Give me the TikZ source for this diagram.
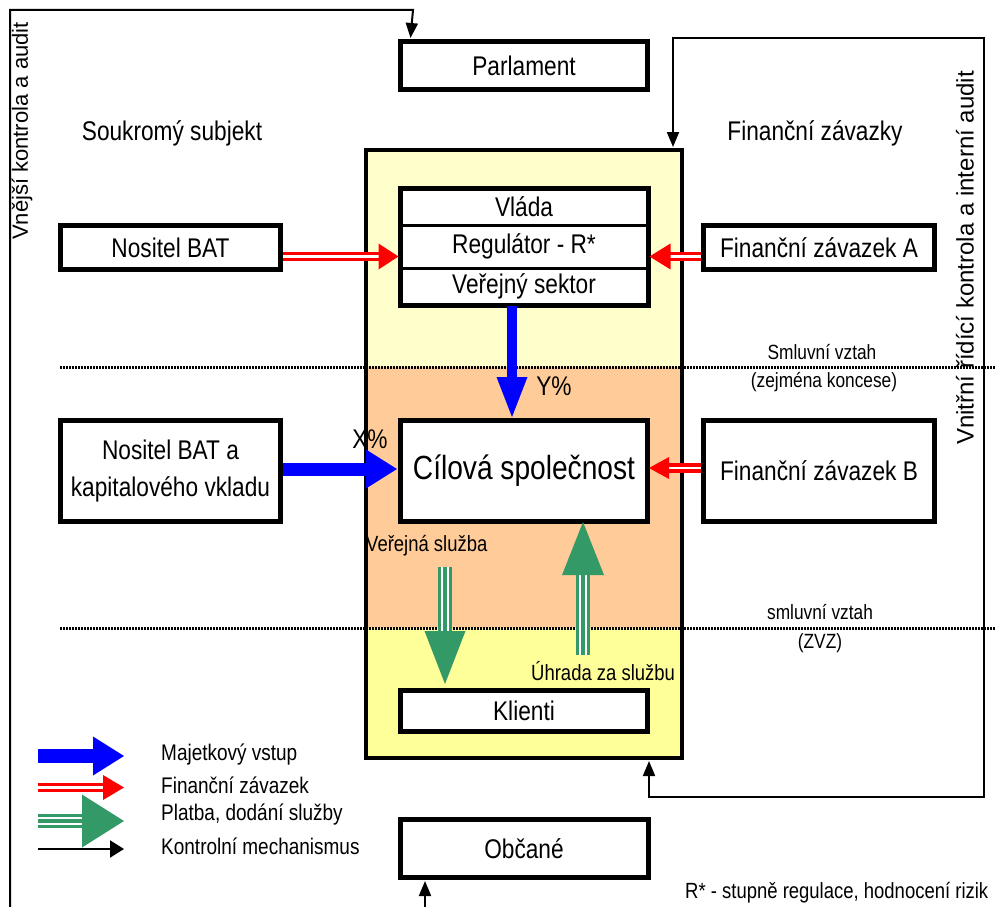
\documentclass[tikz,border=0pt]{standalone}
\usepackage{fontspec}
\setmainfont{Liberation Sans}[FakeStretch=0.84]
\newfontfamily\sidefont{Liberation Sans}
\usetikzlibrary{arrows.meta,calc}

\definecolor{ylight}{RGB}{255,255,204}
\definecolor{peach}{RGB}{255,204,153}
\definecolor{ydeep}{RGB}{255,255,153}
\definecolor{grn}{RGB}{51,153,102}

% wide arrow: shaft style, head colour, start, tip, head length, half head width
\newcommand\fatarrow[6]{%
  \coordinate (fa-b) at ($(#4)!#5!(#3)$);
  \coordinate (fa-e) at ($(fa-b)!-2pt!(#3)$);
  \draw[#1] (#3) -- (fa-e);
  \fill[#2] (#4) -- ($(fa-b)!#6!90:(#4)$) -- ($(fa-b)!#6!-90:(#4)$) -- cycle;
}

\tikzset{
  box/.style={draw, line width=5pt, fill=white, inner sep=0pt, align=center,
    font=\fontsize{27}{37}\selectfont},
  rowbox/.style={draw, line width=3pt, fill=white, inner sep=0pt,
    minimum width=246pt, font=\fontsize{27}{30}\selectfont},
  lbl/.style={inner sep=0pt, font=\fontsize{27}{30}\selectfont},
  small/.style={inner sep=0pt, font=\fontsize{20.6}{24}\selectfont},
  legtext/.style={inner sep=0pt, anchor=west, font=\fontsize{22.6}{26}\selectfont},
  dotline/.style={line width=3pt, dash pattern=on 1.5pt off 1.5pt},
  ctrl/.style={line width=2pt, -{Triangle[length=15pt,width=12pt]}},
  ctrlboth/.style={line width=2pt, {Triangle[length=15pt,width=12pt]}-{Triangle[length=15pt,width=12pt]}},
  blueshaft/.style={draw=blue, line width=#1},
  redshaft/.style={draw=red, line width=3.5pt, double=white, double distance=2.5pt},
  greenshaft/.style={draw=grn, line width=14pt,
    postaction={draw=white, line width=1.8pt, double=grn, double distance=4.2pt}},
}

\begin{document}
\begin{tikzpicture}[x=1pt,y=-1pt]
\useasboundingbox (0,0) rectangle (996,907);

% coloured bands of the central zone
\fill[ylight] (366,150) rectangle (682,367);
\fill[peach] (366,367) rectangle (682,628);
\fill[ydeep] (366,628) rectangle (682,758);

% contract boundaries
\draw[dotline] (60,367) -- (996,367);
\draw[dotline] (60,628) -- (996,628);

% central zone frame
\node[draw, line width=4pt, minimum width=316pt, minimum height=608pt, inner sep=0pt] (zone) at (524,454) {};

% boxes
\node[box, minimum width=247pt, minimum height=48pt] (parl) at (524,65.5) {Parlament};
\node[box, minimum width=220pt, minimum height=44pt] (nbat) at (170.5,247.5) {Nositel BAT};
\node[box, minimum width=231pt, minimum height=44pt] (fza) at (819,247.5) {Finanční závazek A};
\node[box, minimum width=220pt, minimum height=101pt] (nbk) at (170.5,471) {Nositel BAT a\\kapitalového vkladu};
\node[box, minimum width=231pt, minimum height=101pt] (fzb) at (819,471) {Finanční závazek B};
\node[box, minimum width=247pt, minimum height=101pt, font=\fontsize{33.5}{36}\selectfont] (cil) at (524,471) {Cílová společnost};
\node[box, minimum width=247pt, minimum height=41pt] (kli) at (524,711) {Klienti};
\node[box, minimum width=248pt, minimum height=58pt] (obc) at (524,848.5) {Občané};

% government stack
\node[rowbox, minimum height=36pt] (vlada) at (524,207) {Vláda};
\node[rowbox, minimum height=43pt] (reg) at (524,246.5) {Regulátor - R*};
\node[rowbox, minimum height=36pt] (vs) at (524,286) {Veřejný sektor};
\draw[line width=4pt] (vlada.north west) rectangle (vs.south east);

% financial obligations
\coordinate (ra-s) at ($(nbat.east)+(0,9)$);
\coordinate (ra-t) at ($(reg.west)+(-1,10)$);
\fatarrow{redshaft}{red}{ra-s}{ra-t}{20pt}{13pt}
\coordinate (rb-s) at ($(fza.west)+(0,9)$);
\coordinate (rb-t) at ($(reg.east)+(1,10)$);
\fatarrow{redshaft}{red}{rb-s}{rb-t}{21pt}{13pt}
\coordinate (rc-s) at ($(fzb.west)+(0,-3)$);
\coordinate (rc-t) at ($(cil.east)+(-1,-3)$);
\fatarrow{redshaft}{red}{rc-s}{rc-t}{20pt}{11pt}

% equity inputs
\coordinate (ba-s) at ($(vs.south)+(-12,0)$);
\coordinate (ba-t) at ($(cil.north)+(-12,-1)$);
\fatarrow{blueshaft=10.5pt}{blue}{ba-s}{ba-t}{40pt}{15.5pt}
\coordinate (bb-s) at ($(nbk.east)+(0,-2)$);
\coordinate (bb-t) at ($(cil.west)+(-1,-2)$);
\fatarrow{blueshaft=13pt}{blue}{bb-s}{bb-t}{31pt}{19.5pt}

% service and payment
\coordinate (gd-s) at (445,567);
\coordinate (gd-t) at ($(kli.north)+(-79,-4)$);
\fatarrow{greenshaft}{grn}{gd-s}{gd-t}{53pt}{20.5pt}
\coordinate (gu-s) at (583,655);
\coordinate (gu-t) at ($(cil.south)+(59,-2)$);
\fatarrow{greenshaft}{grn}{gu-s}{gu-t}{53pt}{21pt}

% control mechanisms
\coordinate (lc-s) at (10,907);
\draw[ctrl] (lc-s) |- (413,10) -- ($(parl.north west)+(12.5,-1)$);
\coordinate (rc-top) at ($(zone.north east)+(-11,-1)$);
\coordinate (rc-bot) at ($(zone.south east)+(-35,1)$);
\draw[ctrlboth] (rc-top) |- (984,38) |- ($(rc-bot)+(0,36)$) -- (rc-bot);
\coordinate (bc-s) at (425,907);
\draw[ctrl] (bc-s) -- ($(obc.south)+(-99,1)$);

% labels
\node[lbl] (soukr) at (172,133) {Soukromý subjekt};
\node[lbl] (finz) at (815,133) {Finanční závazky};
\node[small] (sv1) at (822,352) {Smluvní vztah};
\node[small] (sv2) at (824,382) {(zejména koncese)};
\node[small] (sv3) at (820,612) {smluvní vztah};
\node[small] (sv4) at (820,643) {(ZVZ)};
\node[lbl] (ypct) at (554,386) {Y\%};
\node[lbl] (xpct) at (370,439) {X\%};
\node[inner sep=0pt, anchor=west, font=\fontsize{22}{24}\selectfont] (vsl) at (366,546) {Veřejná služba};
\node[inner sep=0pt, anchor=west, font=\fontsize{22}{24}\selectfont] (uhr) at (531,671) {Úhrada za službu};
\node[inner sep=0pt, rotate=90, font=\sidefont\fontsize{22}{24}\selectfont] (vnej) at (22,131) {Vnější kontrola a audit};
\node[inner sep=0pt, rotate=90, font=\sidefont\fontsize{24}{28}\selectfont] (vnit) at (965,258) {Vnitřní řídící kontrola a interní audit};
\node[inner sep=0pt, anchor=west, font=\fontsize{22}{24}\selectfont] (rnote) at (685,893) {R* - stupně regulace, hodnocení rizik};

% legend
\coordinate (l1-s) at (38,756);  \coordinate (l1-t) at (124,756);
\fatarrow{blueshaft=14pt}{blue}{l1-s}{l1-t}{31pt}{19.5pt}
\coordinate (l2-s) at (38,787.5);  \coordinate (l2-t) at (124,787.5);
\fatarrow{redshaft}{red}{l2-s}{l2-t}{21pt}{12.5pt}
\coordinate (l3-s) at (38,821);  \coordinate (l3-t) at (124,821);
\fatarrow{greenshaft}{grn}{l3-s}{l3-t}{42pt}{26.5pt}
\coordinate (l4-s) at (38,849);  \coordinate (l4-t) at (124,849);
\draw[line width=2pt, -{Triangle[length=14pt,width=17pt]}] (l4-s) -- (l4-t);
\node[legtext] (lg1) at (161,755) {Majetkový vstup};
\node[legtext] (lg2) at (161,785) {Finanční závazek};
\node[legtext] (lg3) at (161,815) {Platba, dodání služby};
\node[legtext] (lg4) at (161,846) {Kontrolní mechanismus};
\end{tikzpicture}
\end{document}
